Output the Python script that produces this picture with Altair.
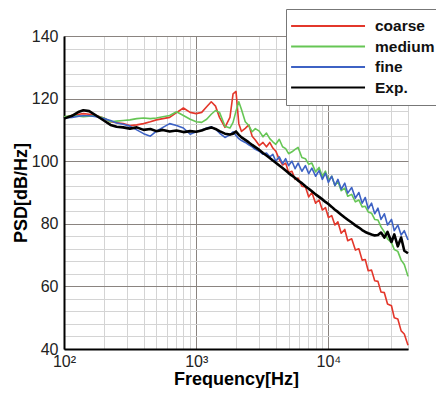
import altair as alt
import pandas as pd

freq = [100, 115, 130, 140, 155, 175, 200, 225, 250, 280,
        315, 355, 400, 450, 500, 560, 630, 710, 800, 900,
        1000, 1100, 1200, 1300, 1400, 1500, 1650, 1800, 1900, 2000,
        2100, 2200, 2350, 2500, 2650, 2800, 3000, 3200, 3400, 3600,
        3800, 4000, 4250, 4500, 4750, 5000, 5300, 5600, 5900, 6300,
        6700, 7100, 7500, 8000, 8500, 9000, 9500, 10000, 10600, 11200,
        11800, 12500, 13300, 14000, 15000, 16000, 17000, 18000, 19000, 20000,
        21200, 22400, 23700, 25000, 26500, 28000, 30000, 31500, 33500, 35500,
        37500, 40000]

coarse = [114.0, 114.6, 115.0, 115.2, 115.0, 114.6, 113.8, 112.6, 112.3, 112.0,
          111.4, 111.6, 112.0, 112.6, 113.2, 113.6, 114.0, 115.5, 117.0, 115.6,
          115.2, 115.6, 117.4, 119.0, 117.6, 114.0, 110.8, 114.0, 121.5, 122.3,
          112.0, 109.5, 110.5, 111.6, 108.0, 106.8, 105.0, 106.0, 104.6, 106.0,
          104.2, 103.2, 100.6, 98.8, 99.4, 96.4, 96.8, 94.2, 94.6, 92.0,
          91.8, 88.6, 90.0, 86.6, 87.6, 84.4, 85.2, 82.0, 82.6, 79.6,
          80.6, 77.0, 78.2, 74.6, 75.2, 71.6, 72.0, 68.4, 68.6, 65.0,
          65.2, 61.8, 61.6, 58.2, 58.0, 54.4, 53.8, 50.0, 49.6, 45.8,
          44.8, 41.2]

medium = [114.2, 114.6, 114.4, 114.2, 114.4, 114.5, 113.8, 112.6, 112.8, 113.0,
          113.2, 113.6, 113.8, 113.6, 113.8, 114.2, 114.6, 115.8, 114.6, 113.4,
          112.6, 112.4, 113.4, 115.0, 116.2, 115.6, 111.2, 110.6, 112.4, 116.0,
          119.0, 116.5, 112.6, 111.4, 109.4, 110.4, 109.6, 107.8, 109.0, 107.2,
          106.2, 105.4, 107.0, 104.6, 104.0, 102.4, 103.0, 103.8, 104.4, 101.2,
          100.8, 99.0, 99.4, 96.6, 98.0, 95.2, 96.8, 93.8, 95.2, 92.2,
          93.6, 90.6, 91.4, 88.8, 89.4, 87.0, 87.6, 85.4, 85.6, 83.8,
          83.4, 81.4, 81.2, 79.0, 77.4, 75.2, 74.0, 71.8, 71.2, 68.4,
          67.0, 63.2]

fine = [113.8, 114.0, 114.4, 114.5, 114.5, 114.2, 113.6, 113.0, 112.2, 111.8,
        111.2, 110.0, 108.8, 108.0, 109.6, 110.8, 112.0, 111.4, 110.6, 108.6,
        109.4, 110.0, 110.6, 111.0, 110.2, 109.0, 107.6, 108.4, 109.4, 108.2,
        107.2, 106.6, 106.0, 105.2, 104.6, 103.8, 103.2, 102.2, 102.6, 101.4,
        102.2, 100.0, 101.4, 99.2, 100.8, 98.6, 100.0, 97.6, 99.4, 96.8,
        98.6, 96.0, 97.8, 95.2, 97.0, 94.2, 96.2, 93.2, 95.2, 92.2,
        94.2, 91.0, 93.0, 89.8, 91.6, 88.2, 90.0, 86.6, 88.4, 84.8,
        86.6, 83.2, 85.0, 81.4, 83.2, 79.6, 81.4, 77.8, 79.6, 76.4,
        77.8, 74.8]

exp = [113.6, 114.5, 115.8, 116.3, 116.0, 114.6, 113.0, 111.6, 111.0, 110.8,
       110.4, 110.8, 110.0, 110.3, 109.6, 110.0, 109.5, 109.8, 109.3, 109.6,
       109.4, 109.8, 110.4, 110.8, 110.3, 109.6, 108.8, 108.5, 108.8, 109.5,
       108.4, 107.6, 106.8, 106.0, 105.2, 104.5, 103.6, 102.6, 101.8, 101.0,
       100.2, 99.5, 98.6, 97.8, 97.0, 96.2, 95.4, 94.6, 93.8, 93.0,
       92.0, 91.2, 90.4, 89.4, 88.6, 87.8, 87.0, 86.3, 85.4, 84.5,
       83.8, 82.9, 82.0, 81.3, 80.4, 79.5, 78.8, 78.0, 77.4, 77.0,
       76.6, 76.3, 76.4, 77.2, 75.6, 77.4, 74.2, 76.6, 72.8, 75.6,
       71.4, 70.6]

series_names = ["coarse", "medium", "fine", "Exp."]
series_colors = ["#e3372b", "#66c655", "#3d62c4", "#000000"]
series_widths = [1.6, 1.6, 1.6, 2.6]
series_values = [coarse, medium, fine, exp]

x_grid = [100, 200, 300, 400, 500, 600, 700, 800, 900,
          1000, 2000, 3000, 4000, 5000, 6000, 7000, 8000, 9000,
          10000, 20000, 30000, 40000]
y_grid = list(range(40, 141, 4))

rows = []
for name, vals in zip(series_names, series_values):
    for f, v in zip(freq, vals):
        rows.append({"series": name, "freq": f, "psd": v})
df = pd.DataFrame(rows)

FONT = "Liberation Sans"

x_enc = alt.X(
    "freq:Q",
    scale=alt.Scale(type="log", domain=[100, 40000], nice=False),
    axis=alt.Axis(
        values=x_grid,
        labelExpr="datum.value == 100 ? '10\u00b2' : datum.value == 1000 ? '10\u00b3' : datum.value == 10000 ? '10\u2074' : ''",
        title="Frequency[Hz]",
        titleFontSize=18, titleFontWeight="bold", titleFont=FONT,
        titleBaseline="bottom", titleY=39,
        labelFontSize=16, labelFont=FONT, labelColor="#222",
        labelOverlap=False, labelFlush=False, labelPadding=4,
        ticks=False,
        domainColor="#000", domainWidth=2,
        gridColor={"condition": {"test": "indexof([100,1000,10000], datum.value) >= 0", "value": "#8a8480"}, "value": "#d4d4d4"},
        gridWidth=1,
    ),
)
y_enc = alt.Y(
    "psd:Q",
    scale=alt.Scale(domain=[40, 140], nice=False, zero=False),
    axis=alt.Axis(
        values=y_grid,
        labelExpr="datum.value % 20 == 0 ? datum.label : ''",
        title="PSD[dB/Hz]",
        titleFontSize=18, titleFontWeight="bold", titleFont=FONT,
        titleBaseline="bottom", titleX=-34,
        labelFontSize=16, labelFont=FONT, labelColor="#222",
        labelOverlap=False, labelFlush=False, labelPadding=6,
        ticks=False,
        domainColor="#000", domainWidth=2,
        gridColor={"condition": {"test": "datum.value % 20 == 0", "value": "#8a8480"}, "value": "#d4d4d4"},
        gridWidth=1,
    ),
)
color_enc = alt.Color(
    "series:N",
    scale=alt.Scale(domain=series_names, range=series_colors),
    legend=alt.Legend(
        title=None, orient="none", legendX=222, legendY=-27,
        symbolType="M-1.7,0H8.86", symbolSize=196, symbolStrokeWidth=2,
        labelFont=FONT, labelFontSize=15.5, labelFontWeight="bold", labelColor="#111",
        labelOffset=64, padding=9, rowPadding=3.5,
        strokeColor="#777", fillColor="white",
    ),
    sort=series_names,
)

base = alt.Chart(df)
layers = []
for name, w in zip(series_names, series_widths):
    layers.append(
        base.transform_filter(alt.datum.series == name)
        .mark_line(strokeWidth=w, strokeJoin="round")
        .encode(x=x_enc, y=y_enc, color=color_enc, order="freq:Q")
    )

chart = alt.layer(*layers).properties(
    width=344, height=313,
    autosize=alt.AutoSizeParams(type="none"),
    padding={"left": 56, "top": 28, "right": 28, "bottom": 39},
    background="white",
).configure_view(stroke=None).configure(font=FONT)

chart.save("out.html", embed_options={"renderer": "svg", "actions": False})
